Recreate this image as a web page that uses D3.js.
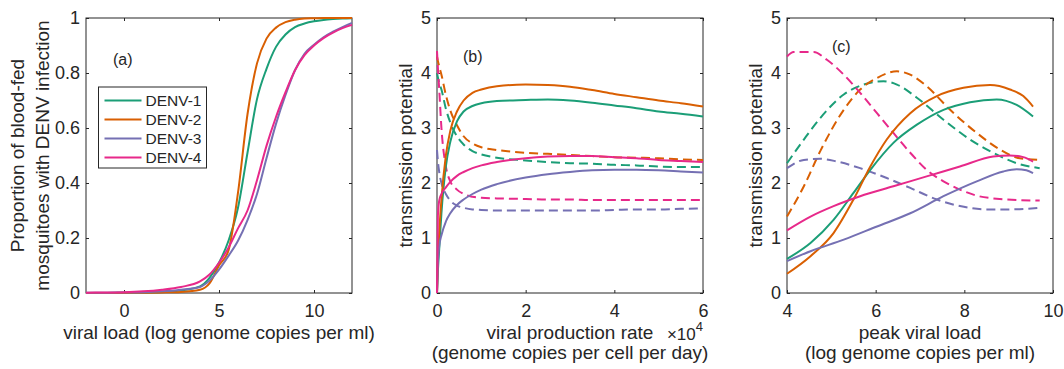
<!DOCTYPE html>
<html>
<head>
<meta charset="utf-8">
<script src="https://cdn.jsdelivr.net/npm/d3@7"></script>
<style>
  body { margin: 0; background: #fff; }
  text { font-family: "Liberation Sans", Arial, sans-serif; fill: #262626; }
</style>
</head>
<body>
<div id="chart"></div>
<script>
// Set up dimensions
const width = 1064;
const height = 369;

const serotypes = ["DENV-1", "DENV-2", "DENV-3", "DENV-4"];
const colors = ["#1b9e77", "#d95f02", "#7570b3", "#e7298a"];

// Panel (a): proportion of mosquitoes infected vs viral load
const viralLoad = [-2, -1, 0, 1, 2, 3, 4, 4.5, 5, 5.5, 6, 6.5, 7, 7.5, 8, 8.5, 9, 9.5, 10, 10.5, 11, 11.5, 12];
const infDenv1 = [0, 0, 0.001, 0.002, 0.004, 0.009, 0.024, 0.055, 0.11, 0.19, 0.31, 0.51, 0.705, 0.815, 0.895, 0.94, 0.967, 0.98, 0.988, 0.993, 0.996, 0.998, 0.999];
const infDenv2 = [0, 0, 0, 0.001, 0.002, 0.004, 0.012, 0.035, 0.1, 0.155, 0.365, 0.65, 0.835, 0.925, 0.965, 0.985, 0.994, 0.998, 0.999, 1, 1, 1, 1];
const infDenv3 = [0.001, 0.001, 0.002, 0.003, 0.006, 0.012, 0.022, 0.045, 0.085, 0.135, 0.19, 0.265, 0.36, 0.49, 0.615, 0.72, 0.81, 0.87, 0.903, 0.93, 0.95, 0.967, 0.982];
const infDenv4 = [0.001, 0.002, 0.003, 0.006, 0.012, 0.022, 0.042, 0.067, 0.11, 0.165, 0.235, 0.3, 0.41, 0.535, 0.64, 0.73, 0.81, 0.865, 0.9, 0.927, 0.947, 0.963, 0.975];

// Panel (b): transmission potential vs viral production rate
const prodRate = [0, 200, 500, 1000, 2000, 3000, 4500, 6000, 8000, 10000, 13500, 20000, 25000, 30000, 35000, 40000, 45000, 50000, 55000, 60000];
const solidB1 = [0, 0.4, 0.8, 1.45, 2.3, 2.75, 3.12, 3.3, 3.4, 3.45, 3.49, 3.51, 3.52, 3.5, 3.46, 3.41, 3.36, 3.3, 3.26, 3.21];
const solidB2 = [0, 0.6, 1.1, 1.7, 2.5, 2.95, 3.3, 3.5, 3.64, 3.7, 3.76, 3.79, 3.78, 3.75, 3.69, 3.62, 3.56, 3.5, 3.45, 3.39];
const solidB3 = [0, 0.55, 0.85, 1.05, 1.3, 1.45, 1.6, 1.7, 1.8, 1.88, 1.98, 2.1, 2.16, 2.2, 2.23, 2.24, 2.24, 2.23, 2.21, 2.19];
const solidB4 = [0, 1.4, 1.68, 1.8, 1.92, 2.02, 2.13, 2.2, 2.27, 2.32, 2.38, 2.45, 2.48, 2.49, 2.49, 2.47, 2.45, 2.42, 2.4, 2.38];
const dashB1 = [4.0, 3.92, 3.82, 3.7, 3.35, 3.1, 2.85, 2.7, 2.58, 2.52, 2.46, 2.41, 2.38, 2.36, 2.35, 2.33, 2.32, 2.3, 2.29, 2.29];
const dashB2 = [4.3, 4.22, 4.12, 3.97, 3.6, 3.32, 3.05, 2.85, 2.72, 2.65, 2.6, 2.55, 2.53, 2.51, 2.49, 2.47, 2.46, 2.45, 2.43, 2.42];
const dashB3 = [2.6, 2.4, 2.2, 2.0, 1.8, 1.68, 1.59, 1.55, 1.52, 1.51, 1.5, 1.5, 1.5, 1.5, 1.5, 1.51, 1.52, 1.52, 1.53, 1.54];
const dashB4 = [4.4, 4.1, 3.7, 3.0, 2.3, 2.03, 1.88, 1.8, 1.75, 1.73, 1.72, 1.71, 1.7, 1.7, 1.69, 1.69, 1.69, 1.69, 1.69, 1.69];

// Panel (c): transmission potential vs peak viral load, [peak load, potential]
const solidC1 = [[4, 0.62], [4.53, 0.91], [5.05, 1.33], [5.5, 1.82], [5.88, 2.24], [6.4, 2.73], [6.93, 3.06], [7.53, 3.33], [8.13, 3.47], [8.73, 3.52], [9.18, 3.42], [9.55, 3.21]];
const solidC2 = [[4, 0.35], [4.53, 0.67], [5.05, 1.09], [5.5, 1.7], [5.88, 2.3], [6.25, 2.79], [6.78, 3.27], [7.38, 3.58], [7.98, 3.73], [8.58, 3.78], [9.03, 3.7], [9.33, 3.58], [9.55, 3.39]];
const solidC3 = [[4, 0.58], [4.53, 0.76], [5.28, 0.97], [6.03, 1.21], [6.78, 1.45], [7.53, 1.76], [8.28, 2.03], [8.88, 2.21], [9.18, 2.25], [9.4, 2.23], [9.55, 2.18]];
const solidC4 = [[4, 1.14], [4.53, 1.39], [5.05, 1.58], [5.65, 1.76], [6.4, 1.94], [7.15, 2.12], [7.9, 2.3], [8.65, 2.48], [9.03, 2.5], [9.33, 2.47], [9.55, 2.39]];
const dashC1 = [[4, 2.36], [4.38, 2.79], [4.75, 3.18], [5.28, 3.61], [5.73, 3.79], [6.18, 3.85], [6.48, 3.79], [6.93, 3.55], [7.53, 3.15], [8.13, 2.79], [8.65, 2.55], [9.18, 2.36], [9.7, 2.27]];
const dashC2 = [[4, 1.39], [4.38, 1.94], [4.75, 2.58], [5.28, 3.33], [5.65, 3.7], [6.03, 3.91], [6.48, 4.03], [6.78, 3.97], [7.15, 3.76], [7.68, 3.33], [8.28, 2.91], [8.8, 2.61], [9.25, 2.45], [9.7, 2.42]];
const dashC3 = [[4, 2.27], [4.38, 2.42], [4.75, 2.44], [5.13, 2.39], [5.65, 2.27], [6.25, 2.09], [6.78, 1.91], [7.38, 1.7], [7.9, 1.58], [8.5, 1.52], [9.03, 1.52], [9.7, 1.55]];
const dashC4 = [[4, 4.3], [4.15, 4.38], [4.6, 4.38], [4.9, 4.24], [5.28, 3.97], [5.65, 3.64], [6.03, 3.27], [6.4, 2.91], [6.78, 2.55], [7.15, 2.24], [7.53, 2.03], [7.9, 1.88], [8.28, 1.77], [8.8, 1.71], [9.7, 1.68]];

const svg = d3.select("#chart")
    .append("svg")
    .attr("width", width)
    .attr("height", height);

const plotTop = 18, plotH = 275, plotW = 266;
const lefts = [86, 437, 787];

// draws the box, ticks inside on all sides, labels on left/bottom
function drawAxes(g, x, y, xTicks, yTicks, xFmt, yFmt) {
    g.append("g")
        .attr("transform", `translate(0,${plotH})`)
        .call(d3.axisBottom(x).tickValues(xTicks).tickSize(-3).tickPadding(11).tickFormat(xFmt));
    g.append("g")
        .call(d3.axisTop(x).tickValues(xTicks).tickSize(-3).tickFormat(""));
    g.append("g")
        .call(d3.axisLeft(y).tickValues(yTicks).tickSize(-3).tickPadding(6).tickFormat(yFmt));
    g.append("g")
        .attr("transform", `translate(${plotW},0)`)
        .call(d3.axisRight(y).tickValues(yTicks).tickSize(-3).tickFormat(""));
    g.selectAll(".domain").remove();
    g.selectAll(".tick line").attr("stroke", "#262626");
    g.selectAll(".tick text").attr("font-size", 18).attr("fill", "#262626")
        .style("font-family", '"Liberation Sans", Arial, sans-serif');
    g.append("rect")
        .attr("width", plotW).attr("height", plotH)
        .attr("fill", "none").attr("stroke", "#262626").attr("stroke-width", 1);
}

function yLabel(xPos, lines) {
    const t = svg.append("text")
        .attr("font-size", 19)
        .attr("text-anchor", "middle")
        .attr("transform", `translate(${xPos},${plotTop + plotH / 2}) rotate(-90)`);
    lines.forEach((s, i) => {
        t.append("tspan").attr("x", 0).attr("y", i * 25).text(s);
    });
}

function xLabel(cx, lines) {
    lines.forEach((s, i) => {
        svg.append("text")
            .attr("x", cx).attr("y", 339 + i * 20)
            .attr("font-size", 19)
            .attr("text-anchor", "middle")
            .text(s);
    });
}

const curve = d3.curveMonotoneX;

// ---------- panel (a) ----------
const xA = d3.scaleLinear().domain([-2, 12]).range([0, plotW]);
const yA = d3.scaleLinear().domain([0, 1]).range([plotH, 0]);
const gA = svg.append("g").attr("transform", `translate(${lefts[0]},${plotTop})`);
drawAxes(gA, xA, yA, [0, 5, 10], [0, 0.2, 0.4, 0.6, 0.8, 1], d3.format("~g"), d3.format("~g"));

const lineA = d3.line().x(d => xA(d[0])).y(d => yA(d[1])).curve(curve);
[infDenv1, infDenv2, infDenv3, infDenv4].forEach((ys, i) => {
    gA.append("path")
        .datum(viralLoad.map((v, j) => [v, ys[j]]))
        .attr("d", lineA)
        .attr("fill", "none")
        .attr("stroke", colors[i])
        .attr("stroke-width", 2);
});

gA.append("text").attr("x", 27).attr("y", 47).attr("font-size", 16).text("(a)");

// legend
const leg = gA.append("g").attr("transform", "translate(12.5,69)");
leg.append("rect").attr("width", 108).attr("height", 81)
    .attr("fill", "#fff").attr("stroke", "#262626").attr("stroke-width", 1);
serotypes.forEach((s, i) => {
    const yy = 13.5 + i * 19;
    leg.append("line").attr("x1", 6).attr("x2", 43).attr("y1", yy).attr("y2", yy)
        .attr("stroke", colors[i]).attr("stroke-width", 2);
    leg.append("text").attr("x", 47).attr("y", yy).attr("dy", "0.35em")
        .attr("font-size", 15.5).text(s);
});

// ---------- panel (b) ----------
const xB = d3.scaleLinear().domain([0, 60000]).range([0, plotW]);
const yB = d3.scaleLinear().domain([0, 5]).range([plotH, 0]);
const gB = svg.append("g").attr("transform", `translate(${lefts[1]},${plotTop})`);
drawAxes(gB, xB, yB, [0, 20000, 40000, 60000], [0, 1, 2, 3, 4, 5], d => d / 1e4, d3.format("d"));

const lineB = d3.line().x(d => xB(d[0])).y(d => yB(d[1])).curve(curve);
[dashB1, dashB2, dashB3, dashB4].forEach((ys, i) => {
    gB.append("path")
        .datum(prodRate.map((v, j) => [v, ys[j]]))
        .attr("d", lineB)
        .attr("fill", "none")
        .attr("stroke", colors[i])
        .attr("stroke-width", 2)
        .attr("stroke-dasharray", "9,5");
});
[solidB1, solidB2, solidB3, solidB4].forEach((ys, i) => {
    gB.append("path")
        .datum(prodRate.map((v, j) => [v, ys[j]]))
        .attr("d", lineB)
        .attr("fill", "none")
        .attr("stroke", colors[i])
        .attr("stroke-width", 2);
});

gB.append("text").attr("x", 26).attr("y", 44).attr("font-size", 16).text("(b)");

// exponent label, sits above the second title line, right of the first
const expo = svg.append("text")
    .attr("x", lefts[1] + plotW).attr("y", 340)
    .attr("text-anchor", "end")
    .attr("font-size", 17);
expo.append("tspan").text("\u00d710");
expo.append("tspan").attr("dy", -9).attr("font-size", 13).text("4");

// ---------- panel (c) ----------
const xC = d3.scaleLinear().domain([4, 10]).range([0, plotW]);
const yC = d3.scaleLinear().domain([0, 5]).range([plotH, 0]);
const gC = svg.append("g").attr("transform", `translate(${lefts[2]},${plotTop})`);
drawAxes(gC, xC, yC, [4, 6, 8, 10], [0, 1, 2, 3, 4, 5], d3.format("d"), d3.format("d"));

const lineC = d3.line().x(d => xC(d[0])).y(d => yC(d[1])).curve(curve);
[dashC1, dashC2, dashC3, dashC4].forEach((pts, i) => {
    gC.append("path")
        .datum(pts)
        .attr("d", lineC)
        .attr("fill", "none")
        .attr("stroke", colors[i])
        .attr("stroke-width", 2)
        .attr("stroke-dasharray", "9,5");
});
[solidC1, solidC2, solidC3, solidC4].forEach((pts, i) => {
    gC.append("path")
        .datum(pts)
        .attr("d", lineC)
        .attr("fill", "none")
        .attr("stroke", colors[i])
        .attr("stroke-width", 2);
});

gC.append("text").attr("x", 45).attr("y", 34).attr("font-size", 16).text("(c)");

// ---------- axis titles ----------
yLabel(24, ["Proportion of blood-fed", "mosquitoes with DENV infection"]);
yLabel(412, ["transmission potential"]);
yLabel(762, ["transmission potential"]);

xLabel(lefts[0] + plotW / 2, ["viral load (log genome copies per ml)"]);
xLabel(lefts[1] + plotW / 2, ["viral production rate", "(genome copies per cell per day)"]);
xLabel(lefts[2] + plotW / 2, ["peak viral load", "(log genome copies per ml)"]);
</script>
</body>
</html>
